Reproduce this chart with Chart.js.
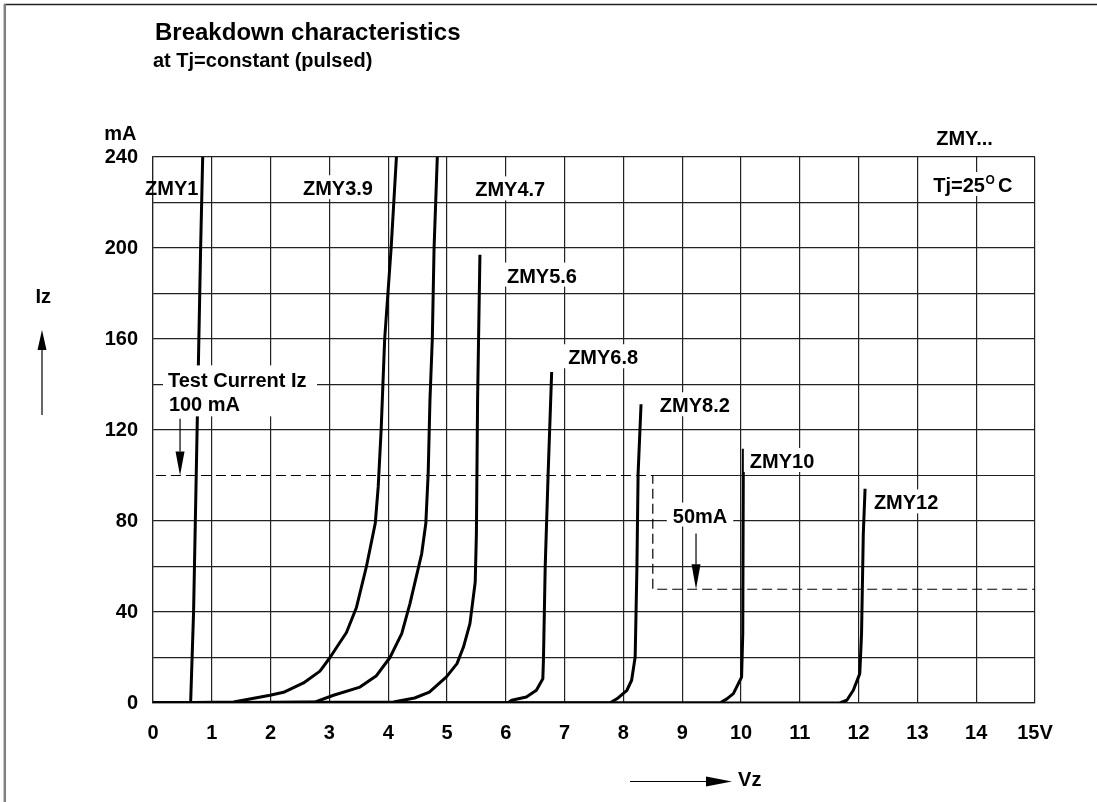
<!DOCTYPE html>
<html>
<head>
<meta charset="utf-8">
<title>Breakdown characteristics</title>
<script src="https://cdn.jsdelivr.net/npm/chart.js@4.4.1/dist/chart.umd.min.js"></script>
<style>
    body { margin: 0; background: #fff; }
    canvas { display: block; }
</style>
</head>
<body>
<canvas id="zenerChart" width="1097" height="802"></canvas>
<script>
const voltsZmy1 = [0, 0.64, 0.69, 0.72, 0.75, 0.78, 0.81, 0.845];
const currentZmy1 = [0, 0, 40, 80, 120, 160, 200, 240];

const voltsZmy39 = [0, 1.37, 1.99, 2.22, 2.56, 2.84, 3.01, 3.29, 3.46, 3.63, 3.78, 3.83, 3.88, 3.94, 4.05, 4.14];
const currentZmy39 = [0, 0.4, 3.4, 4.7, 8.8, 14, 20, 31, 42, 60, 79, 95, 120, 160, 200, 240];

const voltsZmy47 = [0, 2.75, 3.07, 3.52, 3.80, 4.03, 4.23, 4.37, 4.57, 4.64, 4.68, 4.71, 4.75, 4.78, 4.835];
const currentZmy47 = [0, 0.4, 3.4, 7, 12, 20, 30.5, 43.7, 65.7, 79, 101, 133, 160, 200, 240];

const voltsZmy56 = [0, 4.09, 4.45, 4.7, 4.99, 5.17, 5.28, 5.39, 5.48, 5.50, 5.52, 5.56];
const currentZmy56 = [0, 0.4, 2.2, 4.8, 11.5, 17.3, 24.6, 34.9, 53.2, 74.5, 133, 197];

const voltsZmy68 = [0, 6.03, 6.10, 6.35, 6.52, 6.63, 6.64, 6.67, 6.72, 6.78];
const currentZmy68 = [0, 0, 1.2, 2.6, 5.6, 10.7, 18.8, 59.8, 100.8, 145.5];

const voltsZmy82 = [0, 7.77, 7.91, 8.06, 8.14, 8.20, 8.23, 8.25, 8.30];
const currentZmy82 = [0, 0, 2.2, 5.6, 10, 20.2, 59.8, 100.8, 131.3];

const voltsZmy10 = [0, 9.64, 9.76, 9.87, 10.01, 10.03, 10.04];
const currentZmy10 = [0, 0, 1.8, 4.1, 11.4, 30.5, 111.8];

const voltsZmy12 = [0, 11.68, 11.80, 11.91, 12.02, 12.05, 12.08, 12.11];
const currentZmy12 = [0, 0, 1.2, 5.6, 12.9, 30.5, 74.5, 94.2];

// Prüfstrom-Markierung (gestrichelt) und Rest der 100 mA Gitterlinie
const testVolts = [0.05, 8.5, 8.5, 15];
const testCurrent = [100, 100, 50, 50];
const gridVolts = [8.5, 15];
const gridCurrent = [100, 100];

const xTicks = [0, 1, 2, 3, 4, 5, 6, 7, 8, 9, 10, 11, 12, 13, 14, 15];
const yTickLabels = [0, 40, 80, 120, 160, 200, 240];

const FONT = '"Liberation Sans", Arial, sans-serif';

// Beschriftungen im Diagramm (Position in V / mA, Grundlinie links)
const curveLabels = [
    { text: "ZMY1", v: -0.136, i: 223.2, box: false },
    { text: "ZMY3.9", v: 2.55, i: 223.2, box: true },
    { text: "ZMY4.7", v: 5.48, i: 222.7, box: true },
    { text: "ZMY5.6", v: 6.02, i: 184.8, box: true },
    { text: "ZMY6.8", v: 7.06, i: 148.9, box: true },
    { text: "ZMY8.2", v: 8.62, i: 127.8, box: true },
    { text: "ZMY10", v: 10.15, i: 103.3, box: true },
    { text: "ZMY12", v: 12.26, i: 85.1, box: true },
    { text: "ZMY...", v: 13.32, i: 245.1, box: false },
    { text: "Test Current Iz", v: 0.255, i: 138.9, box: false },
    { text: "100 mA", v: 0.27, i: 128.4, box: false },
    { text: "50mA", v: 8.84, i: 79.3, box: true },
    { text: "mA", v: -0.83, i: 247.3, box: false },
    { text: "Iz", v: -2.0, i: 176, box: false },
    { text: "Vz", v: 9.95, i: -36.3, box: false }
];

function toPoints(xs, ys) {
    return xs.map((x, idx) => ({ x: x, y: ys[idx] }));
}

function curve(label, xs, ys) {
    return {
        label: label,
        data: toPoints(xs, ys),
        showLine: true,
        borderColor: "#000",
        borderWidth: 3,
        pointRadius: 0,
        tension: 0,
        borderJoinStyle: "round",
        borderCapStyle: "butt"
    };
}

function drawArrow(ctx, x1, y1, x2, y2, headLen, headHalf) {
    const ang = Math.atan2(y2 - y1, x2 - x1);
    const bx = x2 - Math.cos(ang) * headLen;
    const by = y2 - Math.sin(ang) * headLen;
    ctx.beginPath();
    ctx.moveTo(x1, y1);
    ctx.lineTo(bx, by);
    ctx.stroke();
    ctx.beginPath();
    ctx.moveTo(x2, y2);
    ctx.lineTo(bx - Math.sin(ang) * headHalf, by + Math.cos(ang) * headHalf);
    ctx.lineTo(bx + Math.sin(ang) * headHalf, by - Math.cos(ang) * headHalf);
    ctx.closePath();
    ctx.fill();
}

const annotationPlugin = {
    id: "zenerAnnotations",
    beforeDraw(chart) {
        const ctx = chart.ctx;
        ctx.save();
        ctx.fillStyle = "#fff";
        ctx.fillRect(0, 0, chart.width, chart.height);
        // Rahmen oben und links
        ctx.strokeStyle = "#222";
        ctx.lineWidth = 1.5;
        ctx.beginPath();
        ctx.moveTo(4, 4.5);
        ctx.lineTo(chart.width, 4.5);
        ctx.stroke();
        ctx.strokeStyle = "#808080";
        ctx.lineWidth = 2.5;
        ctx.beginPath();
        ctx.moveTo(4.8, 4);
        ctx.lineTo(4.8, chart.height);
        ctx.stroke();
        ctx.restore();
    },
    afterDatasetsDraw(chart) {
        const ctx = chart.ctx;
        const xs = chart.scales.x;
        const ys = chart.scales.y;
        const px = v => xs.getPixelForValue(v);
        const py = i => ys.getPixelForValue(i);

        ctx.save();
        ctx.fillStyle = "#000";
        ctx.strokeStyle = "#000";
        ctx.textBaseline = "alphabetic";
        ctx.textAlign = "left";

        // Titel
        ctx.font = "bold 24px " + FONT;
        ctx.fillText("Breakdown characteristics", 155, 40);
        ctx.font = "bold 20px " + FONT;
        ctx.fillText("at Tj=constant (pulsed)", 153, 67);

        // weißer Block hinter "Test Current Iz / 100 mA"
        ctx.fillStyle = "#fff";
        ctx.fillRect(px(0.17), py(148.4), px(2.79) - px(0.17), py(126) - py(148.4));

        ctx.font = "bold 20px " + FONT;
        for (const lab of curveLabels) {
            const x = px(lab.v);
            const y = py(lab.i);
            const w = ctx.measureText(lab.text).width;
            if (lab.box) {
                ctx.fillStyle = "#fff";
                ctx.fillRect(x - 6, y - 20, w + 12, 24);
            }
            ctx.fillStyle = "#000";
            ctx.fillText(lab.text, x, y);
        }

        // Tj=25°C mit hochgestelltem o
        const tx = px(13.27);
        const ty = py(224.6);
        ctx.fillStyle = "#fff";
        ctx.fillRect(tx - 6, ty - 20, 92, 24);
        ctx.fillStyle = "#000";
        ctx.font = "bold 20px " + FONT;
        ctx.fillText("Tj=25", tx, ty);
        const w25 = ctx.measureText("Tj=25").width;
        ctx.font = "bold 12px " + FONT;
        ctx.fillText("O", tx + w25 + 0.5, ty - 8);
        ctx.font = "bold 20px " + FONT;
        ctx.fillText("C", tx + w25 + 13, ty);

        // Pfeile
        ctx.lineWidth = 1.2;
        drawArrow(ctx, px(0.46), py(125), px(0.46), py(100), 24, 4.5);
        drawArrow(ctx, px(9.235), py(74.5), px(9.235), py(50), 25, 4.5);
        drawArrow(ctx, 42, 415, 42, 330, 20, 4.5);
        drawArrow(ctx, 630, 781.5, 732, 781.5, 26, 5);

        ctx.restore();
    }
};

function init() {
    const ctx = document.getElementById("zenerChart").getContext("2d");

    const datasets = [
        curve("ZMY1", voltsZmy1, currentZmy1),
        curve("ZMY3.9", voltsZmy39, currentZmy39),
        curve("ZMY4.7", voltsZmy47, currentZmy47),
        curve("ZMY5.6", voltsZmy56, currentZmy56),
        curve("ZMY6.8", voltsZmy68, currentZmy68),
        curve("ZMY8.2", voltsZmy82, currentZmy82),
        curve("ZMY10", voltsZmy10, currentZmy10),
        curve("ZMY12", voltsZmy12, currentZmy12),
        {
            label: "Testmarke",
            data: toPoints(testVolts, testCurrent),
            showLine: true,
            borderColor: "#000",
            borderWidth: 1.2,
            borderDash: [10, 5],
            pointRadius: 0
        },
        {
            label: "Gitter 100",
            data: toPoints(gridVolts, gridCurrent),
            showLine: true,
            borderColor: "#222",
            borderWidth: 1.2,
            pointRadius: 0
        }
    ];

    new Chart(ctx, {
        type: "scatter",
        data: { datasets: datasets },
        options: {
            responsive: false,
            animation: false,
            layout: { padding: { top: 157, right: 62, bottom: 0, left: 0 } },
            plugins: {
                legend: { display: false },
                tooltip: { enabled: false },
                title: { display: false }
            },
            scales: {
                x: {
                    type: "linear",
                    min: 0,
                    max: 15,
                    afterFit: scale => { scale.height = 99; },
                    afterBuildTicks: scale => { scale.ticks = xTicks.map(v => ({ value: v })); },
                    grid: { color: "#222", lineWidth: 1.2, drawTicks: false },
                    border: { color: "#222", width: 1.2 },
                    ticks: {
                        color: "#000",
                        padding: 18,
                        maxRotation: 0,
                        autoSkip: false,
                        font: { family: FONT, size: 20, weight: "bold" },
                        callback: v => (v === 15 ? "15V" : String(v))
                    }
                },
                y: {
                    type: "linear",
                    min: 0,
                    max: 240,
                    afterFit: scale => { scale.width = 153; },
                    grid: {
                        color: c => (c.tick && c.tick.value === 100 ? "rgba(0,0,0,0)" : "#222"),
                        lineWidth: 1.2,
                        drawTicks: false
                    },
                    border: { color: "#222", width: 1.2 },
                    ticks: {
                        stepSize: 20,
                        color: "#000",
                        padding: 15,
                        font: { family: FONT, size: 20, weight: "bold" },
                        callback: v => (yTickLabels.includes(v) ? String(v) : "")
                    }
                }
            }
        },
        plugins: [annotationPlugin]
    });
}

init();
</script>
</body>
</html>
